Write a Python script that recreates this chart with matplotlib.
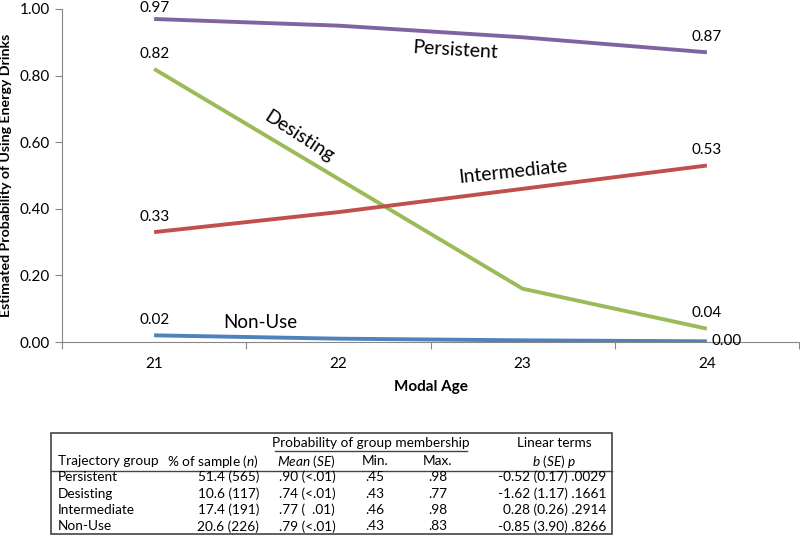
import matplotlib.pyplot as plt
from matplotlib.patches import Rectangle

plt.rcParams['font.family'] = ['Lato', 'DejaVu Sans']
plt.rcParams['mathtext.fontset'] = 'custom'
plt.rcParams['mathtext.rm'] = 'Lato'
plt.rcParams['mathtext.it'] = 'Lato:italic'

# chart data
ages = ['21', '22', '23', '24']
persistent = [0.97, 0.95, 0.915, 0.87]
desisting = [0.82, 0.49, 0.16, 0.04]
intermediate = [0.33, 0.39, 0.46, 0.53]
non_use = [0.02, 0.01, 0.005, 0.002]

# table data
groups = ['Persistent', 'Desisting', 'Intermediate', 'Non-Use']
pct_sample = ['51.4 (565)', '10.6 (117)', '17.4 (191)', '20.6 (226)']
mean_se = ['.90 (<.01)', '.74 (<.01)', '.77 (  .01)', '.79 (<.01)']
min_prob = ['.45', '.43', '.46', '.43']
max_prob = ['.98', '.77', '.98', '.83']
linear_terms = ['-0.52 (0.17) .0029', '-1.62 (1.17) .1661',
                '0.28 (0.26) .2914', '-0.85 (3.90) .8266']

fig = plt.figure(figsize=(8, 5.35), dpi=100)
ax = fig.add_axes([62 / 800, 1 - 342 / 535, 737 / 800, 333 / 535])

series = [
    ('Persistent', persistent, '#8064A2'),
    ('Desisting', desisting, '#9BBB59'),
    ('Intermediate', intermediate, '#C0504D'),
    ('Non-Use', non_use, '#4F81BD'),
]
x = range(len(ages))
for name, vals, col in series:
    ax.plot(x, vals, color=col, lw=2.8, solid_capstyle='butt', zorder=3)

# end point labels
lab_fs = 11
for vals in (persistent, desisting, intermediate, non_use):
    for i in (0, 3):
        if vals is non_use and i == 3:
            continue
        off = 3 if vals[i] > 0.95 else 6
        ax.annotate(f'{vals[i]:.2f}', (i, vals[i]), xytext=(0, off),
                    textcoords='offset points', ha='center', va='bottom',
                    fontsize=lab_fs, annotation_clip=False)
ax.annotate(f'{non_use[3]:.2f}', (3, non_use[3]), xytext=(3, 0),
            textcoords='offset points', ha='left', va='center', fontsize=lab_fs)

# series names
ax.text(1.633, 0.877, 'Persistent', fontsize=14, rotation=-3.5, ha='center', va='center')
ax.text(0.786, 0.616, 'Desisting', fontsize=14, rotation=-33, ha='center', va='center')
ax.text(1.948, 0.51, 'Intermediate', fontsize=14, rotation=6, ha='center', va='center')
ax.text(0.575, 0.06, 'Non-Use', fontsize=13.5, ha='center', va='center')

ax.set_xlim(-0.5, 3.5)
ax.set_ylim(0, 1.0)
yt = [0, 0.2, 0.4, 0.6, 0.8, 1.0]
ax.set_yticks(yt)
ax.set_yticklabels([f'{v:.2f}' for v in yt], fontsize=lab_fs)
ax.set_xticks([-0.5, 0.5, 1.5, 2.5, 3.5])
ax.set_xticklabels([])
ax.set_xticks(list(x), minor=True)
ax.set_xticklabels(ages, minor=True, fontsize=lab_fs)
ax.tick_params(axis='x', which='minor', length=0, pad=11)
ax.tick_params(axis='both', which='major', direction='out', length=5, color='#868686')
for s in ('top', 'right'):
    ax.spines[s].set_visible(False)
for s in ('left', 'bottom'):
    ax.spines[s].set_color('#868686')
ax.set_xlabel('Modal Age', fontsize=11, fontweight='bold', labelpad=6)
ax.set_ylabel('Estimated Probability of Using Energy Drinks', fontsize=10.2,
              fontweight='bold')
ax.yaxis.set_label_coords(-0.068, 0.5)

# table drawn in pixel coordinates
tab = fig.add_axes([0, 0, 1, 1], facecolor='none')
tab.set_xlim(0, 800)
tab.set_ylim(535, 0)
tab.axis('off')
tab.add_patch(Rectangle((51, 433), 561, 101, fill=False, ec='#444444', lw=1.2))
tab.plot([275, 467], [451, 451], color='#444444', lw=1)
tab.plot([51, 612], [470.5, 470.5], color='#444444', lw=1)
fs = 9.8
tab.text(371, 443, 'Probability of group membership', fontsize=fs, ha='center', va='center')
tab.text(554, 443, 'Linear terms', fontsize=fs, ha='center', va='center')
hy = 461
tab.text(58, hy, 'Trajectory group', fontsize=fs, ha='left', va='center')
tab.text(259, hy, r'% of sample ($\mathit{n}$)', fontsize=fs, ha='right', va='center')
tab.text(306, hy, r'$\mathit{Mean}$ ($\mathit{SE}$)', fontsize=fs, ha='center', va='center')
tab.text(375, hy, 'Min.', fontsize=fs, ha='center', va='center')
tab.text(438, hy, 'Max.', fontsize=fs, ha='center', va='center')
tab.text(554, hy, r'$\mathit{b}$ ($\mathit{SE}$) $\mathit{p}$', fontsize=fs, ha='center', va='center')
row_y = [477, 493.5, 510, 526.5]
for i, ry in enumerate(row_y):
    tab.text(58, ry, groups[i], fontsize=fs, ha='left', va='center')
    tab.text(259, ry, pct_sample[i], fontsize=fs, ha='right', va='center')
    tab.text(279, ry, mean_se[i], fontsize=fs, ha='left', va='center')
    tab.text(375, ry, min_prob[i], fontsize=fs, ha='center', va='center')
    tab.text(438, ry, max_prob[i], fontsize=fs, ha='center', va='center')
    tab.text(606, ry, linear_terms[i], fontsize=fs, ha='right', va='center')

fig.savefig('out.png', dpi=100)
